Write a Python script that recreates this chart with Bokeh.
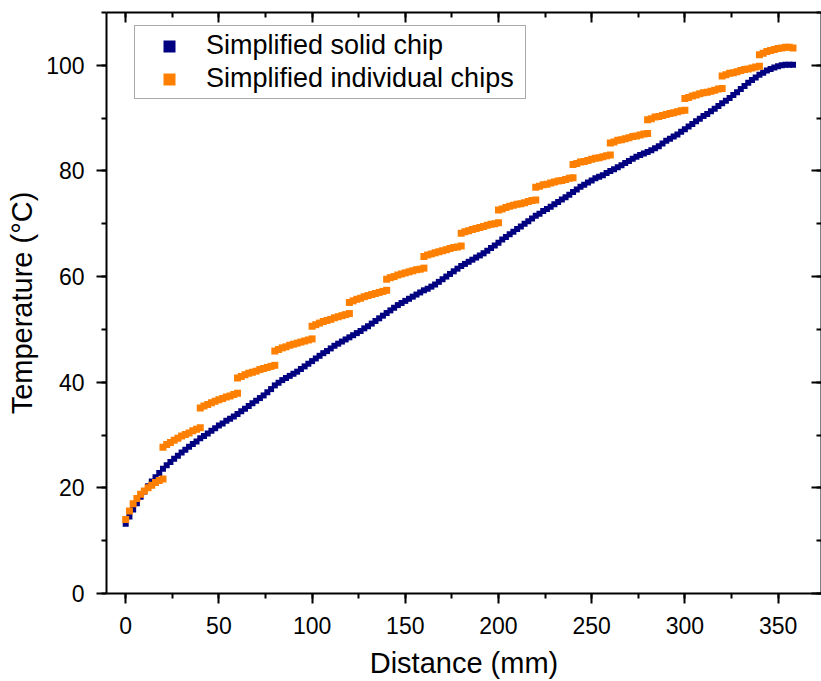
from bokeh.plotting import figure
from bokeh.models import (Range1d, LinearAxis, SingleIntervalTicker, Legend, LegendItem,
                          CustomJSTickFormatter)
from bokeh.embed import file_html
from bokeh.resources import INLINE

# ---- data ----
distance_solid = list(range(0, 359, 2))  # mm
temp_solid = [
    13.2, 14.6, 15.9, 17.1, 18.3, 19.3, 20.3, 21.2, 22.0, 22.8,
    23.6, 24.3, 24.9, 25.5, 26.1, 26.7, 27.2, 27.8, 28.3, 28.8,
    29.4, 29.8, 30.3, 30.8, 31.3, 31.8, 32.2, 32.7, 33.1, 33.5,
    34.0, 34.5, 35.0, 35.5, 36.0, 36.5, 37.0, 37.5, 38.1, 38.7,
    39.4, 39.9, 40.4, 40.8, 41.2, 41.6, 42.0, 42.5, 43.0, 43.5,
    44.0, 44.5, 45.0, 45.5, 45.9, 46.4, 46.9, 47.3, 47.7, 48.1,
    48.5, 48.9, 49.3, 49.7, 50.2, 50.6, 51.1, 51.6, 52.1, 52.6,
    53.1, 53.6, 54.1, 54.6, 55.0, 55.4, 55.8, 56.2, 56.6, 57.0,
    57.4, 57.7, 58.1, 58.5, 59.0, 59.5, 60.0, 60.5, 61.0, 61.5,
    62.0, 62.4, 62.8, 63.2, 63.6, 64.0, 64.4, 64.9, 65.4, 65.9,
    66.4, 67.0, 67.5, 68.0, 68.5, 69.0, 69.5, 70.0, 70.5, 71.0,
    71.5, 71.9, 72.4, 72.8, 73.2, 73.7, 74.1, 74.6, 75.0, 75.5,
    76.0, 76.5, 77.0, 77.4, 77.8, 78.2, 78.6, 78.9, 79.2, 79.6,
    80.0, 80.3, 80.7, 81.1, 81.5, 81.9, 82.3, 82.7, 83.0, 83.3,
    83.6, 83.9, 84.3, 84.7, 85.2, 85.7, 86.1, 86.5, 86.9, 87.4,
    87.9, 88.4, 88.9, 89.4, 89.9, 90.4, 90.8, 91.3, 91.8, 92.3,
    92.8, 93.3, 93.8, 94.4, 94.9, 95.5, 96.1, 96.7, 97.2, 97.7,
    98.2, 98.6, 99.0, 99.3, 99.6, 99.8, 100.0, 100.1, 100.1, 100.1,
]

chip_starts = list(range(0, 341, 20))  # mm, start of each individual chip
chip_step = 2  # mm between samples inside a chip
temp_chips = [
    [14.0, 15.6, 17.0, 18.0, 18.8, 19.4, 20.0, 20.5, 21.0, 21.4, 21.7],
    [27.7, 28.2, 28.6, 29.0, 29.4, 29.8, 30.1, 30.4, 30.8, 31.1, 31.4],
    [35.1, 35.5, 35.8, 36.1, 36.4, 36.7, 36.9, 37.2, 37.4, 37.7, 37.9],
    [40.8, 41.1, 41.4, 41.7, 41.9, 42.1, 42.4, 42.6, 42.8, 43.0, 43.2],
    [45.9, 46.2, 46.5, 46.7, 47.0, 47.2, 47.4, 47.6, 47.8, 48.0, 48.2],
    [50.6, 50.9, 51.2, 51.5, 51.7, 51.9, 52.2, 52.4, 52.6, 52.8, 53.0],
    [55.1, 55.4, 55.7, 55.9, 56.2, 56.4, 56.6, 56.8, 57.0, 57.2, 57.4],
    [59.5, 59.8, 60.0, 60.3, 60.5, 60.7, 60.9, 61.1, 61.3, 61.4, 61.6],
    [63.8, 64.1, 64.3, 64.5, 64.7, 64.9, 65.1, 65.3, 65.5, 65.6, 65.8],
    [68.2, 68.5, 68.7, 68.9, 69.1, 69.3, 69.5, 69.7, 69.9, 70.0, 70.2],
    [72.6, 72.8, 73.1, 73.3, 73.5, 73.7, 73.8, 74.0, 74.2, 74.4, 74.5],
    [76.9, 77.1, 77.4, 77.5, 77.7, 77.9, 78.1, 78.2, 78.4, 78.6, 78.7],
    [81.2, 81.4, 81.7, 81.8, 82.0, 82.2, 82.4, 82.5, 82.7, 82.9, 83.0],
    [85.3, 85.5, 85.8, 85.9, 86.1, 86.3, 86.5, 86.6, 86.8, 87.0, 87.1],
    [89.7, 89.9, 90.2, 90.3, 90.5, 90.7, 90.9, 91.0, 91.2, 91.4, 91.5],
    [93.7, 93.9, 94.2, 94.4, 94.6, 94.8, 94.9, 95.1, 95.3, 95.5, 95.6],
    [98.0, 98.2, 98.5, 98.6, 98.8, 99.0, 99.2, 99.3, 99.5, 99.7, 99.8],
    [102.0, 102.3, 102.6, 102.8, 103.0, 103.2, 103.3, 103.4, 103.4, 103.3],
]

series_names = ["Simplified solid chip", "Simplified individual chips"]
x_ticks_interval = 50
y_ticks_interval = 20

distance_ind, temp_ind = [], []
for start, vals in zip(chip_starts, temp_chips):
    for i, v in enumerate(vals):
        distance_ind.append(start + chip_step * i)
        temp_ind.append(v)

FONT = "Liberation Sans"
BLUE = "#000080"
ORANGE = "#FF8000"

p = figure(width=821, height=681, output_backend="svg", toolbar_location=None,
           x_range=Range1d(-10.3, 373.3), y_range=Range1d(0, 110),
           min_border_left=106, min_border_right=0, min_border_top=12, min_border_bottom=88,
           background_fill_color="white", border_fill_color="white")
p.outline_line_color = None
p.grid.visible = False

r_solid = p.scatter(distance_solid, temp_solid, marker="square", size=6,
                    fill_color=BLUE, line_color=None)
r_ind = p.scatter(distance_ind, temp_ind, marker="square", size=7,
                  fill_color=ORANGE, line_color=None)

def style_axis(ax, ticker, labels=True, inward=False):
    ax.ticker = ticker
    ax.axis_line_width = 2
    ax.axis_line_color = "black"
    ax.major_tick_line_width = 2
    ax.minor_tick_line_width = 2
    ax.major_tick_line_color = "black"
    ax.minor_tick_line_color = "black"
    if inward:
        ax.major_tick_in = 10
        ax.major_tick_out = 0
        ax.minor_tick_in = 5
        ax.minor_tick_out = 0
    else:
        ax.major_tick_in = 0
        ax.major_tick_out = 10
        ax.minor_tick_in = 0
        ax.minor_tick_out = 5
    if labels:
        ax.major_label_text_font = FONT
        ax.major_label_text_font_size = "23px"
        ax.major_label_text_color = "black"
        ax.axis_label_text_font = FONT
        ax.axis_label_text_font_size = "29px"
        ax.axis_label_text_font_style = "normal"
        ax.axis_label_text_color = "black"
    else:
        ax.formatter = CustomJSTickFormatter(code="return ''")
        ax.major_label_text_font_size = "0px"
        ax.major_label_standoff = 0

xt = lambda: SingleIntervalTicker(interval=x_ticks_interval, num_minor_ticks=2)
yt = lambda: SingleIntervalTicker(interval=y_ticks_interval, num_minor_ticks=2)

xa = p.xaxis[0]
style_axis(xa, xt())
xa.axis_label = "Distance (mm)"
xa.major_label_standoff = 13
xa.axis_label_standoff = 10

ya = p.yaxis[0]
style_axis(ya, yt())
ya.axis_label = "Temperature (°C)"
ya.major_label_standoff = 12
ya.axis_label_standoff = 5

top = LinearAxis()
style_axis(top, xt(), labels=False, inward=True)
p.add_layout(top, "above")

right = LinearAxis()
style_axis(right, yt(), labels=False, inward=True)
p.add_layout(right, "right")

legend = Legend(items=[LegendItem(label=series_names[0], renderers=[r_solid]),
                       LegendItem(label=series_names[1], renderers=[r_ind])],
                location=(28, 494))
legend.label_text_font = FONT
legend.label_text_font_size = "27px"
legend.label_text_color = "black"
legend.padding = 4
legend.margin = 0
legend.spacing = 2
legend.glyph_width = 60
legend.glyph_height = 30
legend.label_height = 30
legend.label_width = 315
legend.label_standoff = 7
legend.border_line_color = "#555555"
legend.border_line_width = 1
legend.background_fill_color = "white"
legend.background_fill_alpha = 1
p.add_layout(legend)

open("out.html", "w").write(file_html(p, INLINE))
